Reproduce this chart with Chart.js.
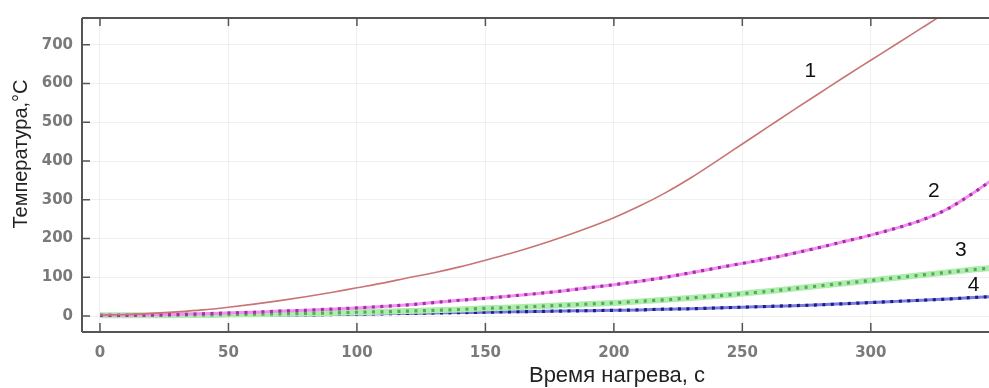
<!DOCTYPE html>
<html><head><meta charset="utf-8">
<script src="https://cdn.jsdelivr.net/npm/chart.js@4"></script>
<style>html,body{margin:0;padding:0;background:#fff}#wrap{width:989px;height:388px;position:relative}</style>
</head><body><div id="wrap"><canvas id="c"></canvas></div>
<script>
const times = [0,10,20,30,40,50,60,70,80,90,100,110,120,130,140,150,160,170,180,190,200,210,220,230,240,250,260,270,280,290,300,310,320,330,340,350];
const curve1 = [3,4,7,11,16,23,31,40,50,61,73,85,99,112,127,144,162,182,204,228,254,284,318,357,400,444,488,532,575,618,660,702,744,786,826,866];
const curve2 = [2,2,3,4,6,8,10,13,15,18,21,25,29,35,41,46,52,58,65,73,81,90,100,112,124,136,148,162,177,193,209,227,248,277,318,365];
const curve3 = [2,2,2,3,3,4,5,6,7,8,10,11,13,15,17,20,22,25,28,31,34,38,42,47,52,58,64,71,78,85,92,99,106,113,120,126];
const curve4 = [1,1,1,1,2,2,2,3,3,4,5,6,7,8,9,10,11,12,13,14,15,16,18,19,21,23,25,27,29,32,35,38,41,44,48,51];
const xTicks = [0,50,100,150,200,250,300];
const yTicks = [0,100,200,300,400,500,600,700];
const xRange = [-7,346];
const yRange = [-41,769];
const curveLabels = ['1','2','3','4'];
const labelX = [276.5,324.5,335,340];
const labelY = [631,323,169,79];
const xTitle = 'Время нагрева, с';
const yTitle = 'Температура,°С';

const pts = arr => times.map((t,i)=>({x:t,y:arr[i]}));
function band(arr,color,w,o){return {data:pts(arr),order:o,borderColor:color,borderWidth:w,pointRadius:0,cubicInterpolationMode:'monotone',fill:false};}
function dots(arr,color,w,o){return {data:pts(arr),order:o,borderColor:color,borderWidth:w,pointRadius:0,cubicInterpolationMode:'monotone',fill:false,borderDash:[3,5.5]};}

const frame = {
  id:'frame',
  afterDraw(ch){
    const c=ch.ctx, a=ch.chartArea, xs=ch.scales.x, ys=ch.scales.y;
    c.save();
    c.strokeStyle='#555'; c.lineWidth=2;
    c.beginPath();
    c.moveTo(a.left,a.top); c.lineTo(a.right,a.top);
    c.moveTo(a.left,a.top); c.lineTo(a.left,a.bottom);
    c.moveTo(a.left,a.bottom); c.lineTo(a.right,a.bottom);
    c.stroke();
    c.lineWidth=1.5;
    c.beginPath();
    xTicks.forEach(v=>{const p=xs.getPixelForValue(v);c.moveTo(p,a.bottom);c.lineTo(p,a.bottom-9);c.moveTo(p,a.top);c.lineTo(p,a.top+8);});
    yTicks.forEach(v=>{const p=ys.getPixelForValue(v);c.moveTo(a.left,p);c.lineTo(a.left+8,p);});
    c.stroke();
    c.fillStyle='#111';
    c.font='21px "Liberation Sans", Arial, sans-serif';
    c.textAlign='center'; c.textBaseline='middle';
    curveLabels.forEach((s,i)=>c.fillText(s,xs.getPixelForValue(labelX[i]),ys.getPixelForValue(labelY[i])));
    c.fillStyle='#222';
    c.font='22px "Liberation Sans", Arial, sans-serif';
    c.fillText(xTitle,617,376);
    c.font='20px "Liberation Sans", Arial, sans-serif';
    c.translate(21,154); c.rotate(-Math.PI/2);
    c.fillText(yTitle,0,0);
    c.restore();
  }
};

new Chart(document.getElementById('c'),{
  type:'line',
  data:{datasets:[
    {data:pts(curve1),order:0,borderColor:'#c87474',borderWidth:1.6,pointRadius:0,cubicInterpolationMode:'monotone',fill:false},
    dots(curve2,'#a82ca8',3.2,1), band(curve2,'#f090f0',3,2),
    dots(curve3,'#4fae4f',3.2,3), band(curve3,'#b0ecb0',6,4),
    dots(curve4,'#1c1c88',3.2,5), band(curve4,'#7a7ae0',3,6)
  ]},
  options:{
    responsive:true, maintainAspectRatio:false, animation:false,
    layout:{padding:{top:16,right:0,left:0,bottom:0}},
    plugins:{legend:{display:false},tooltip:{enabled:false}},
    scales:{
      x:{type:'linear',min:xRange[0],max:xRange[1],
        afterBuildTicks:s=>{s.ticks=xTicks.map(v=>({value:v}));},
        afterFit:s=>{s.height=56;},
        grid:{color:'rgba(0,0,0,0.06)',drawTicks:false},
        border:{display:false},
        ticks:{padding:12,color:'#7a7a7a',font:{family:'"DejaVu Sans"',size:15,weight:'bold'}}},
      y:{type:'linear',min:yRange[0],max:yRange[1],
        afterBuildTicks:s=>{s.ticks=yTicks.map(v=>({value:v}));},
        afterFit:s=>{s.width=82;},
        grid:{color:'rgba(0,0,0,0.06)',drawTicks:false},
        border:{display:false},
        ticks:{padding:9,color:'#7a7a7a',font:{family:'"DejaVu Sans"',size:15,weight:'bold'}}}
    }
  },
  plugins:[frame]
});
</script></body></html>
